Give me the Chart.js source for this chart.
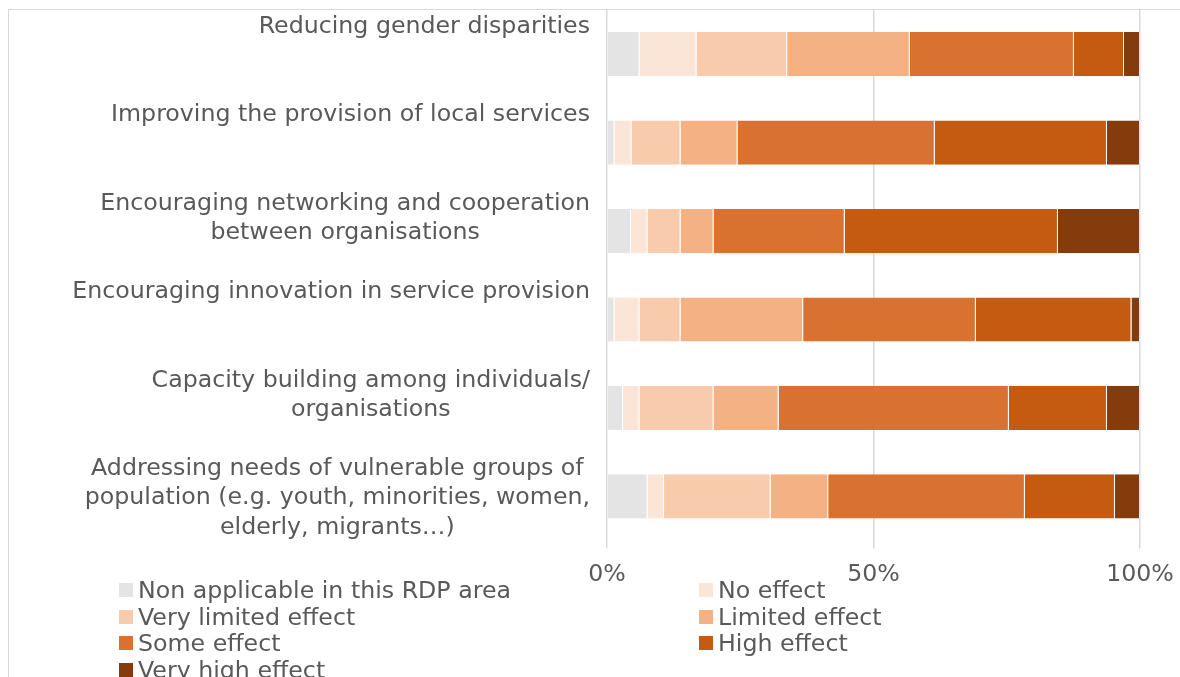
<!DOCTYPE html>
<html>
<head>
<meta charset="utf-8">
<script src="https://cdn.jsdelivr.net/npm/chart.js@4.4.1/dist/chart.umd.min.js"></script>
<style>
    html, body { margin: 0; padding: 0; background: #fff; overflow: hidden; }
    body { width: 1180px; height: 677px; position: relative; font-family: 'DejaVu Sans', Verdana, sans-serif; }
    .frame {
        position: absolute; left: 8px; top: 9px; width: 1300px; height: 800px;
        border-top: 1px solid #d9d9d9; border-left: 1px solid #d9d9d9; box-sizing: border-box;
    }
    .chart-box { position: absolute; left: 9px; top: 10px; width: 1171px; height: 591px; }
    #legend {
        position: absolute; left: 119px; top: 577px;
        display: grid; grid-template-columns: 580px auto; grid-auto-rows: 26.5px;
        color: #595959; font-size: 23.7px;
    }
    #legend .item { display: flex; align-items: center; white-space: nowrap; }
    #legend .box { width: 14px; height: 14px; margin-right: 5px; flex: none; }
</style>
</head>
<body>
<div class="frame"></div>
<div class="chart-box"><canvas id="impactChart"></canvas></div>
<div id="legend"></div>

<script>
/* ── data ──────────────────────────────────────────────────── */
const categories = [
    ['Reducing gender disparities'],
    ['Improving the provision of local services'],
    ['Encouraging networking and cooperation', 'between organisations'],
    ['Encouraging innovation in service provision'],
    ['Capacity building among individuals/', 'organisations'],
    ['Addressing needs of vulnerable groups of', 'population (e.g. youth, minorities, women,', 'elderly, migrants…)']
];

const seriesNames = [
    'Non applicable in this RDP area',
    'No effect',
    'Very limited effect',
    'Limited effect',
    'Some effect',
    'High effect',
    'Very high effect'
];

const nonApplicable = [6.1, 1.4, 4.5, 1.4, 3.0, 7.6];
const noEffect      = [10.7, 3.2, 3.1, 4.7, 3.1, 3.1];
const veryLimited   = [17.0, 9.2, 6.2, 7.7, 13.9, 20.0];
const limited       = [23.0, 10.7, 6.2, 23.0, 12.2, 10.8];
const someEffect    = [30.8, 37.0, 24.6, 32.4, 43.2, 36.9];
const highEffect    = [9.4, 32.3, 40.0, 29.2, 18.4, 16.9];
const veryHigh      = [3.0, 6.2, 15.4, 1.6, 6.2, 4.7];

const xTicks = [0, 50, 100];

const seriesColors = ['#e4e4e4', '#fbe5d6', '#f8cbad', '#f4b183', '#d97230', '#c55a11', '#843c0c'];

/* ── chart ─────────────────────────────────────────────────── */
const FONT = "'DejaVu Sans', Verdana, sans-serif";
const FONT_SIZE = 23.7;
const TEXT = '#595959';
const GRID = '#d9d9d9';

const seriesValues = [nonApplicable, noEffect, veryLimited, limited, someEffect, highEffect, veryHigh];

// category labels: block right-aligned to the axis, lines centred, top of the band
const categoryLabels = {
    id: 'categoryLabels',
    afterDraw(chart) {
        const { ctx, chartArea, scales } = chart;
        const y = scales.y;
        ctx.save();
        ctx.font = FONT_SIZE + 'px ' + FONT;
        ctx.fillStyle = TEXT;
        ctx.textAlign = 'center';
        ctx.textBaseline = 'middle';
        categories.forEach((lines, i) => {
            const w = Math.max(...lines.map(l => ctx.measureText(l).width));
            const cx = chartArea.left - 17 - w / 2;
            const top = y.getPixelForTick(i) - 27.5;
            lines.forEach((l, j) => ctx.fillText(l, cx, top + j * 29.5));
        });
        ctx.restore();
    }
};

const chart = new Chart(document.getElementById('impactChart'), {
    type: 'bar',
    data: {
        labels: categories.map(c => c.join(' ')),
        datasets: seriesNames.map((name, i) => ({
            label: name,
            data: seriesValues[i],
            backgroundColor: seriesColors[i],
            borderColor: 'rgba(255,255,255,0.35)',
            borderWidth: { top: 0, bottom: 0, left: 0, right: 1 },
            borderSkipped: false,
            barPercentage: 0.5,
            categoryPercentage: 1
        }))
    },
    options: {
        indexAxis: 'y',
        responsive: true,
        maintainAspectRatio: false,
        animation: false,
        layout: { padding: { left: 0, right: 40, top: 0, bottom: 0 } },
        plugins: {
            legend: { display: false },
            tooltip: { enabled: false }
        },
        scales: {
            x: {
                stacked: true,
                min: 0,
                max: 100,
                afterBuildTicks: s => { s.ticks = xTicks.map(v => ({ value: v })); },
                afterFit: s => { s.paddingRight = 0; s.paddingLeft = 0; },
                grid: { color: GRID, lineWidth: 1.5, drawTicks: true, tickLength: 8 },
                border: { display: false },
                ticks: {
                    color: TEXT,
                    padding: 12,
                    maxRotation: 0,
                    font: { family: FONT, size: FONT_SIZE },
                    callback: v => v + '%'
                }
            },
            y: {
                stacked: true,
                grid: { display: false },
                border: { display: false },
                ticks: { display: false },
                afterFit: s => { s.width = 598; }
            }
        }
    },
    plugins: [categoryLabels]
});

// legend in two columns, built from the datasets
const legendEl = document.getElementById('legend');
chart.data.datasets.forEach(ds => {
    const item = document.createElement('div');
    item.className = 'item';
    item.innerHTML = `<span class="box" style="background:${ds.backgroundColor}"></span>${ds.label}`;
    legendEl.appendChild(item);
});
</script>
</body>
</html>
